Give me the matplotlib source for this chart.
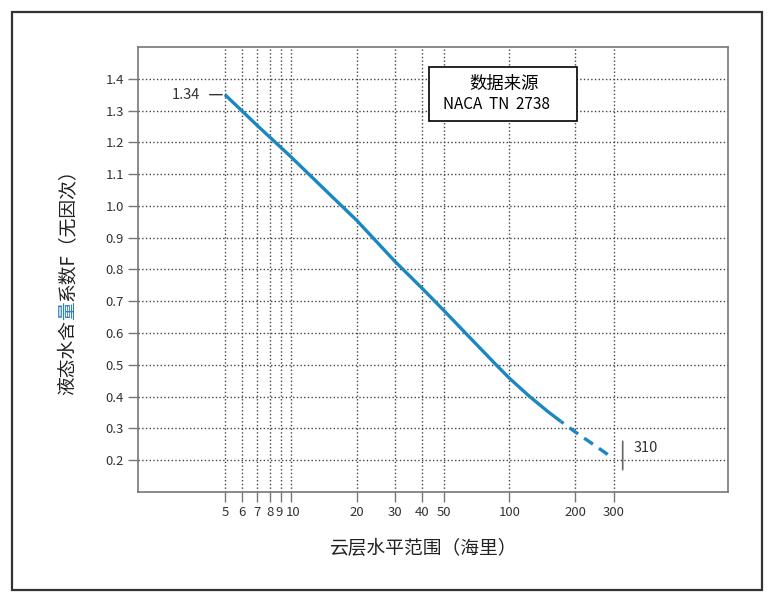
import matplotlib
matplotlib.use('Agg')
import matplotlib.pyplot as plt
from matplotlib.patches import Rectangle
from matplotlib.text import OffsetFrom
from matplotlib.transforms import ScaledTranslation

plt.rcParams['font.family'] = ['Noto Sans CJK SC', 'DejaVu Sans']

# curve (cloud extent in n.mi., factor F)
solid_x = [5, 7, 10, 15.4, 20, 30, 40, 50, 63, 87, 100, 123, 150, 172]
solid_y = [1.35, 1.254, 1.155, 1.03, 0.955, 0.825, 0.74, 0.672, 0.60,
           0.50, 0.458, 0.402, 0.353, 0.322]
dash_x = [172, 200, 250, 300]
dash_y = [0.322, 0.289, 0.243, 0.205]

x_ticks = [5, 6, 7, 8, 9, 10, 20, 30, 40, 50, 100, 200, 300]
y_ticks = [0.2, 0.3, 0.4, 0.5, 0.6, 0.7, 0.8, 0.9, 1.0, 1.1, 1.2, 1.3, 1.4]

start_label = '1.34'
end_label = '310'
source_title = '数据来源'
source_text = 'NACA  TN  2738'
x_title = '云层水平范围（海里）'
y_title_parts = [('液态水含', '#222222'), ('量', '#2a7fc9'),
                 ('系数F（无因次）', '#222222')]

line_color = '#1b87c1'
spine_color = '#777777'
text_color = '#333333'


def main():
    fig = plt.figure(figsize=(7.8, 6.08), dpi=100)
    ax = fig.add_axes([0.1769, 0.1908, 0.7564, 0.7319])

    ax.plot(solid_x, solid_y, color=line_color, lw=2.4,
            solid_capstyle='butt', zorder=3)
    ax.plot(dash_x, dash_y, color=line_color, lw=2.4,
            linestyle=(2.2, (3.2, 2.2)), dash_capstyle='butt', zorder=3)

    ax.set_xscale('log')
    ax.set_xlim(2, 1000)
    ax.set_ylim(0.1, 1.5)
    ax.set_xticks(x_ticks)
    ax.set_xticklabels([str(t) for t in x_ticks])
    ax.xaxis.set_minor_locator(plt.NullLocator())
    ax.set_yticks(y_ticks)
    ax.set_yticklabels(['{:.1f}'.format(t) for t in y_ticks])

    ax.grid(True, which='major', linestyle=':', color='#444444', lw=1.0)
    ax.set_axisbelow(True)
    for s in ax.spines.values():
        s.set_color(spine_color)
        s.set_linewidth(1.2)
    ax.tick_params(axis='both', length=7, width=1.0, color=spine_color,
                   labelsize=9.5, labelcolor=text_color, pad=3)

    # the 9 and 10 labels sit a little apart in the original
    nudge = {'9': -1.5, '10': 2.5}
    for lab in ax.get_xticklabels():
        dx = nudge.get(lab.get_text())
        if dx:
            lab.set_transform(lab.get_transform() +
                              ScaledTranslation(dx / 100, 0,
                                                fig.dpi_scale_trans))

    # value labels at both ends of the curve
    ax.annotate(start_label, xy=(solid_x[0], solid_y[0]), xytext=(-18, 0),
                textcoords='offset points', ha='right', va='center',
                fontsize=10.5, color=text_color,
                arrowprops=dict(arrowstyle='-', color=text_color, lw=1.0,
                                shrinkA=5, shrinkB=2))
    ex, ey = dash_x[-1], dash_y[-1]
    end_ref = OffsetFrom(ax.transData, (ex, ey), unit='points')
    ax.annotate('', xy=(6.5, -8), xycoords=end_ref,
                xytext=(6.5, 12.5), textcoords=end_ref,
                arrowprops=dict(arrowstyle='-', color='#666666', lw=1.2,
                                shrinkA=0, shrinkB=0),
                annotation_clip=False)
    ax.annotate(end_label, xy=(ex, ey), xytext=(14, 8),
                textcoords='offset points', ha='left', va='center',
                fontsize=10.5, color=text_color)

    # source box
    ax.add_patch(Rectangle((0.493, 0.8337), 0.251, 0.1213,
                           transform=ax.transAxes, facecolor='white',
                           edgecolor='black', lw=1.2, zorder=5))
    ax.text(0.620, 0.918, source_title, transform=ax.transAxes,
            ha='center', va='center', fontsize=12.5, color='black', zorder=6)
    ax.text(0.517, 0.870, source_text, transform=ax.transAxes,
            ha='left', va='center', fontsize=11, color='black', zorder=6)

    fig.text(0.5436, 0.0987, x_title, ha='center', va='center',
             fontsize=13.5, color='#222222')

    # y title drawn piece by piece so one character can be coloured
    fig.canvas.draw()
    renderer = fig.canvas.get_renderer()
    y_pos = 0.350
    for part, col in y_title_parts:
        t = fig.text(0.087, y_pos, part, rotation=90, ha='center',
                     va='bottom', fontsize=13.5, color=col)
        bb = t.get_window_extent(renderer)
        y_pos = bb.y1 / fig.bbox.height

    # outer frame
    fig.add_artist(Rectangle((0.0154, 0.0296), 0.9615, 0.9507,
                             transform=fig.transFigure, fill=False,
                             edgecolor='#333333', lw=1.6))

    fig.savefig('out.png', dpi=100)


if __name__ == '__main__':
    main()
